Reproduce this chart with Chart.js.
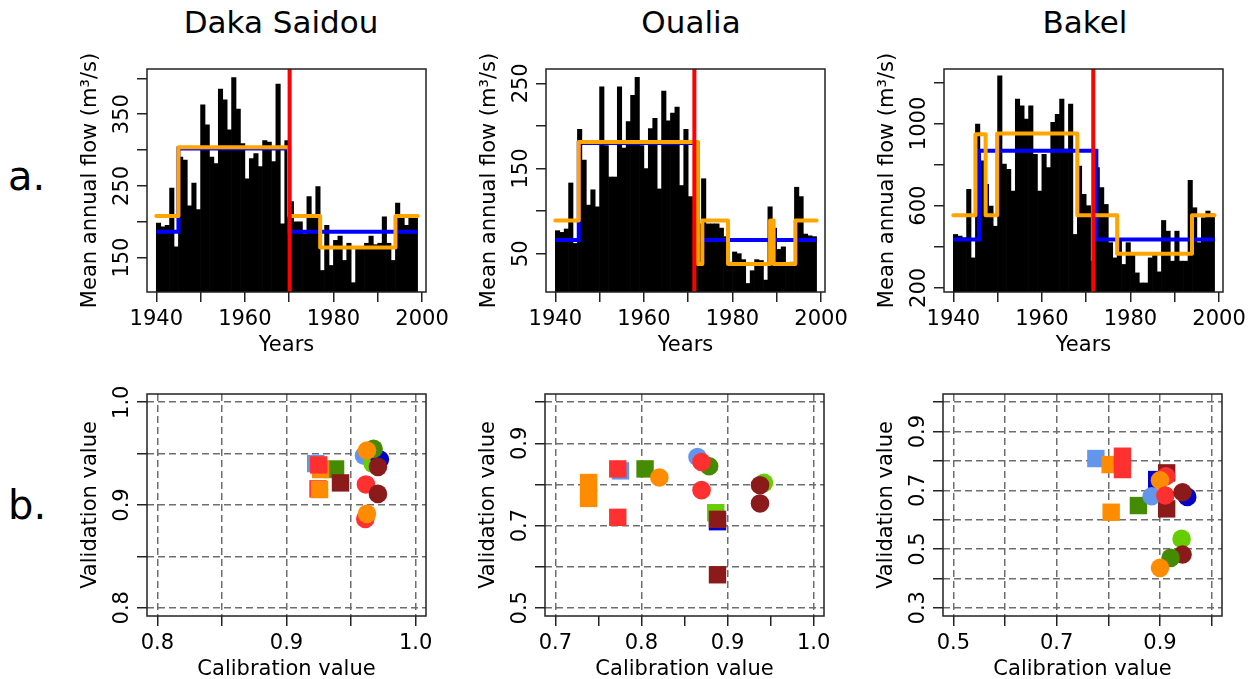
<!DOCTYPE html>
<html>
<head>
<meta charset="utf-8">
<script src="https://cdn.jsdelivr.net/npm/chart.js@4.4.1/dist/chart.umd.min.js"></script>
<style>
  body { margin: 0; width: 1255px; height: 679px; background: #fff; position: relative; overflow: hidden; font-family: "DejaVu Sans", sans-serif; }
  .site { position: absolute; top: 7px; font-size: 31px; line-height: 31px; transform: translateX(-50%); white-space: nowrap; }
  .row { position: absolute; left: 8px; font-size: 40px; line-height: 40px; }
  canvas { position: absolute; }
</style>
</head>
<body>
<div class="site" style="left:281px">Daka Saidou</div>
<div class="site" style="left:691px">Oualia</div>
<div class="site" style="left:1085px">Bakel</div>
<div class="row" style="top:156px">a.</div>
<div class="row" style="top:485px">b.</div>

<canvas id="c1"></canvas>
<canvas id="c2"></canvas>
<canvas id="c3"></canvas>
<canvas id="c4"></canvas>
<canvas id="c5"></canvas>
<canvas id="c6"></canvas>

<script>
// ---- data ----
const years = [1940, 1941, 1942, 1943, 1944, 1945, 1946, 1947, 1948, 1949,
  1950, 1951, 1952, 1953, 1954, 1955, 1956, 1957, 1958, 1959,
  1960, 1961, 1962, 1963, 1964, 1965, 1966, 1967, 1968, 1969,
  1970, 1971, 1972, 1973, 1974, 1975, 1976, 1977, 1978, 1979,
  1980, 1981, 1982, 1983, 1984, 1985, 1986, 1987, 1988, 1989,
  1990, 1991, 1992, 1993, 1994, 1995, 1996, 1997, 1998]

const dakaFlow = [198, 193, 195, 247, 165, 290, 286, 222, 254, 217,
  363, 335, 290, 281, 385, 370, 328, 401, 357, 309,
  260, 288, 295, 277, 313, 311, 284, 392, 197, 313,
  228, 200, 200, 183, 235, 207, 249, 132, 195, 139,
  174, 180, 146, 170, 115, 162, 165, 170, 180, 168,
  170, 207, 170, 146, 226, 209, 195, 207, 207]

const oualiaFlow = [77, 75, 79, 133, 62, 196, 160, 107, 125, 105,
  246, 177, 140, 140, 246, 174, 205, 236, 257, 177,
  150, 197, 209, 126, 241, 206, 215, 222, 130, 196,
  117, 110, 85, 138, 85, 85, 85, 80, 70, 40,
  52, 50, 43, 15, 30, 43, 42, 19, 105, 80,
  55, 58, 38, 40, 128, 117, 73, 71, 70]

const bakelFlow = [460, 452, 444, 680, 346, 997, 818, 704, 598, 500,
  1232, 802, 777, 671, 1119, 1086, 1021, 1086, 850, 671,
  850, 785, 1005, 1045, 1119, 875, 1094, 460, 793, 655,
  600, 330, 785, 688, 606, 420, 346, 428, 314, 420,
  363, 273, 224, 224, 346, 363, 278, 528, 476, 330,
  476, 330, 330, 723, 590, 420, 541, 574, 560]

// segment means (orange / blue) : break years and levels
const dakaOrangeBreaks = [1940, 1945, 1970, 1977, 1994, 1999]
const dakaOrangeMeans = [208, 304, 208, 164, 208]
const dakaBlueBreaks = [1940, 1945, 1970, 1999]
const dakaBlueMeans = [186, 302, 186]
const dakaBreakYear = 1970.1

const oualiaOrangeBreaks = [1940, 1945.3, 1972.2, 1973.2, 1979, 1988.5, 1989.3, 1994.2, 1999]
const oualiaOrangeMeans = [89, 181, 38, 89, 38, 89, 38, 89]
const oualiaBlueBreaks = [1940, 1945.3, 1972.2, 1999]
const oualiaBlueMeans = [66, 180, 66]
const oualiaBreakYear = 1971.4

const bakelOrangeBreaks = [1940, 1945, 1947.3, 1949.9, 1968, 1977, 1993.9, 1999]
const bakelOrangeMeans = [554, 948, 554, 951, 554, 366, 554]
const bakelBlueBreaks = [1940, 1945.8, 1972.3, 1999]
const bakelBlueMeans = [436, 867, 436]
const bakelBreakYear = 1971.6

// tick values and labels
const yearTicks = [1940, 1950, 1960, 1970, 1980, 1990, 2000]
const yearLabels = [1940, 1960, 1980, 2000]
const dakaFlowTicks = [150, 200, 250, 300, 350, 400]
const dakaFlowLabels = [150, 250, 350]
const oualiaFlowTicks = [50, 100, 150, 200, 250]
const oualiaFlowLabels = [50, 150, 250]
const bakelFlowTicks = [200, 400, 600, 800, 1000, 1200]
const bakelFlowLabels = [200, 600, 1000]

// calibration / validation scores, model index per point
const models = ['#6495ED', '#0000CD', '#66CD00', '#458B00', '#FF8C00', '#FF3030', '#8B1A1A']

const dakaSqCal = [0.9226, 0.9359, 0.938, 0.9264, 0.9249, 0.9418, 0.9244, 0.9256]
const dakaSqVal = [0.9403, 0.9345, 0.935, 0.9345, 0.9390, 0.9215, 0.9157, 0.915]
const dakaSqModel = [0, 2, 3, 4, 5, 6, 5, 4]
const dakaCiCal = [0.960, 0.9667, 0.9723, 0.9674, 0.9623, 0.9708, 0.9615, 0.9708, 0.961, 0.9623]
const dakaCiVal = [0.948, 0.9403, 0.9442, 0.9546, 0.953, 0.9371, 0.920, 0.9108, 0.8865, 0.8914]
const dakaCiModel = [0, 2, 1, 3, 4, 6, 5, 6, 5, 4]

const oualiaSqCal = [0.7386, 0.7386, 0.7756, 0.7725, 0.7725, 0.8042, 0.8883, 0.8863, 0.8883, 0.8883]
const oualiaSqVal = [0.8047, 0.766, 0.833, 0.8378, 0.72, 0.8378, 0.7094, 0.7312, 0.7151, 0.5803]
const oualiaSqModel = [4, 4, 0, 5, 5, 3, 1, 2, 6, 6]
const oualiaCiCal = [0.8208, 0.8651, 0.8786, 0.8698, 0.8698, 0.9423, 0.9377, 0.9377]
const oualiaCiVal = [0.8168, 0.8668, 0.8442, 0.8547, 0.7861, 0.8039, 0.7982, 0.7538]
const oualiaCiModel = [4, 0, 3, 5, 5, 2, 6, 6]

const bakelSqCal = [0.7759, 0.8035, 0.8273, 0.8273, 0.8055, 0.8582, 0.8936, 0.9129, 0.9129]
const bakelSqVal = [0.8082, 0.7877, 0.8161, 0.7707, 0.6254, 0.6481, 0.7367, 0.7594, 0.6368]
const bakelSqModel = [0, 4, 5, 5, 4, 3, 1, 6, 6]
const bakelCiCal = [0.8839, 0.9116, 0.9, 0.9103, 0.9527, 0.9437, 0.9418, 0.9437, 0.9206, 0.9]
const bakelCiVal = [0.6799, 0.748, 0.7344, 0.6822, 0.6776, 0.6935, 0.5346, 0.4813, 0.4699, 0.4359]
const bakelCiModel = [0, 5, 4, 5, 1, 6, 2, 6, 3, 4]

const dakaScoreTicks = [0.8, 0.85, 0.9, 0.95, 1.0]
const dakaScoreLabels = [0.8, 0.9, 1.0]
const oualiaCalTicks = [0.7, 0.75, 0.8, 0.85, 0.9, 0.95, 1.0]
const oualiaCalLabels = [0.7, 0.8, 0.9, 1.0]
const oualiaCalGrid = [0.7, 0.8, 0.9, 1.0]
const oualiaValTicks = [0.5, 0.6, 0.7, 0.8, 0.9, 1.0]
const oualiaValLabels = [0.5, 0.7, 0.9]
const bakelCalTicks = [0.5, 0.6, 0.7, 0.8, 0.9, 1.0]
const bakelCalLabels = [0.5, 0.7, 0.9]
const bakelValTicks = [0.3, 0.4, 0.5, 0.6, 0.7, 0.8, 0.9, 1.0]
const bakelValLabels = [0.3, 0.5, 0.7, 0.9]

// ---- helpers ----
const PADL = 100, PADT = 40, PADR = 30, PADB = 70
const FONT = '21px "DejaVu Sans"'

function place(id, left, top, w, h) {
  const c = document.getElementById(id)
  c.width = w + PADL + PADR
  c.height = h + PADT + PADB
  c.style.left = (left - PADL) + 'px'
  c.style.top = (top - PADT) + 'px'
  return c
}

function steps(breaks, means) {
  var pts = []
  for (var i = 0; i < means.length; i++) {
    pts.push({ x: breaks[i], y: means[i] })
    pts.push({ x: breaks[i + 1], y: means[i] })
  }
  return pts
}

function axesPlugin(s) {
  return {
    id: 'rAxes',
    afterDraw(chart) {
      const ctx = chart.ctx, a = chart.chartArea
      const x = chart.scales.x, y = chart.scales.y
      ctx.save()
      ctx.strokeStyle = '#222'
      ctx.lineWidth = 1.5
      ctx.strokeRect(a.left, a.top, a.right - a.left, a.bottom - a.top)
      ctx.fillStyle = '#000'
      ctx.font = FONT
      ctx.textAlign = 'center'
      ctx.textBaseline = 'alphabetic'
      s.xLabels.forEach(v => ctx.fillText(s.fmt(v), x.getPixelForValue(v), a.bottom + 33))
      ctx.fillText(s.xTitle, (a.left + a.right) / 2, a.bottom + 59)
      s.yLabels.forEach(v => {
        ctx.save()
        ctx.translate(a.left - 19, y.getPixelForValue(v))
        ctx.rotate(-Math.PI / 2)
        ctx.fillText(s.fmt(v), 0, 0)
        ctx.restore()
      })
      ctx.save()
      ctx.translate(a.left - 51, (a.top + a.bottom) / 2)
      ctx.rotate(-Math.PI / 2)
      ctx.fillText(s.yTitle, 0, 0)
      ctx.restore()
      ctx.restore()
    }
  }
}

function scale(min, max, ticks, gridVals, dashed, horiz) {
  return {
    type: 'linear', min: min, max: max, offset: false, beginAtZero: false,
    afterBuildTicks: sc => { sc.ticks = ticks.map(v => ({ value: v })) },
    afterFit: sc => { if (horiz) sc.height = PADB; else sc.width = PADL },
    ticks: { display: false },
    border: { display: false, dash: [7, 4] },
    grid: {
      offset: false,
      drawOnChartArea: dashed,
      color: c => (gridVals.indexOf(c.tick ? c.tick.value : NaN) >= 0 ? '#6e6e6e' : 'rgba(0,0,0,0)'),
      lineWidth: 1.5,
      tickLength: 10,
      tickColor: '#222',
      tickWidth: 1.5
    }
  }
}

function topChart(id, left, flow, oB, oM, bB, bM, redYear, yMin, yMax, yTicks, yLabels) {
  const c = place(id, left, 69, 279, 223)
  new Chart(c, {
    type: 'bar',
    data: {
      datasets: [
        { type: 'line', order: 0, data: [{ x: redYear, y: yMin }, { x: redYear, y: yMax }],
          borderColor: '#FF0000', borderWidth: 4, pointRadius: 0, fill: false },
        { type: 'line', order: 1, data: steps(oB, oM), borderColor: '#FFA500', borderWidth: 4,
          pointRadius: 0, fill: false, borderJoinStyle: 'round', borderCapStyle: 'round' },
        { type: 'line', order: 2, data: steps(bB, bM), borderColor: '#0000FF', borderWidth: 4,
          pointRadius: 0, fill: false },
        { type: 'bar', order: 3, data: years.map((yr, i) => ({ x: yr + 0.5, y: flow[i] })),
          backgroundColor: '#000', borderWidth: 0, barPercentage: 1, categoryPercentage: 1 }
      ]
    },
    options: {
      responsive: false, animation: false, devicePixelRatio: 1, events: [],
      layout: { padding: { left: 0, top: PADT, right: PADR, bottom: 0 } },
      plugins: { legend: { display: false }, tooltip: { enabled: false } },
      scales: {
        x: scale(1937.9, 2000.9, yearTicks, [], false, true),
        y: scale(yMin, yMax, yTicks, [], false, false)
      }
    },
    plugins: [axesPlugin({ xLabels: yearLabels, yLabels: yLabels, fmt: v => String(v),
      xTitle: 'Years', yTitle: 'Mean annual flow (m³/s)' })]
  })
}

function scoreChart(id, left, sqX, sqY, sqM, ciX, ciY, ciM, xr, yr, xT, xL, xG, yT, yL, yG) {
  const c = place(id, left, 394, 279, 222)
  new Chart(c, {
    type: 'scatter',
    data: {
      datasets: [
        { order: 1, data: ciX.map((v, i) => ({ x: v, y: ciY[i] })), pointStyle: 'circle', pointRadius: 9.3,
          pointBackgroundColor: ciM.map(m => models[m]), pointBorderWidth: 0 },
        { order: 2, data: sqX.map((v, i) => ({ x: v, y: sqY[i] })), pointStyle: 'rect', pointRadius: 12.3,
          pointBackgroundColor: sqM.map(m => models[m]), pointBorderWidth: 0 }
      ]
    },
    options: {
      responsive: false, animation: false, devicePixelRatio: 1, events: [],
      layout: { padding: { left: 0, top: PADT, right: PADR, bottom: 0 } },
      plugins: { legend: { display: false }, tooltip: { enabled: false } },
      scales: {
        x: scale(xr[0], xr[1], xT, xG, true, true),
        y: scale(yr[0], yr[1], yT, yG, true, false)
      }
    },
    plugins: [axesPlugin({ xLabels: xL, yLabels: yL, fmt: v => v.toFixed(1),
      xTitle: 'Calibration value', yTitle: 'Validation value' })]
  })
}

topChart('c1', 147, dakaFlow, dakaOrangeBreaks, dakaOrangeMeans, dakaBlueBreaks, dakaBlueMeans,
  dakaBreakYear, 102, 413, dakaFlowTicks, dakaFlowLabels)
topChart('c2', 546, oualiaFlow, oualiaOrangeBreaks, oualiaOrangeMeans, oualiaBlueBreaks, oualiaBlueMeans,
  oualiaBreakYear, 5, 266.8, oualiaFlowTicks, oualiaFlowLabels)
topChart('c3', 944, bakelFlow, bakelOrangeBreaks, bakelOrangeMeans, bakelBlueBreaks, bakelBlueMeans,
  bakelBreakYear, 180, 1265, bakelFlowTicks, bakelFlowLabels)

scoreChart('c4', 147, dakaSqCal, dakaSqVal, dakaSqModel, dakaCiCal, dakaCiVal, dakaCiModel,
  [0.792, 1.008], [0.792, 1.008], dakaScoreTicks, dakaScoreLabels, dakaScoreTicks,
  dakaScoreTicks, dakaScoreLabels, dakaScoreTicks)
scoreChart('c5', 545, oualiaSqCal, oualiaSqVal, oualiaSqModel, oualiaCiCal, oualiaCiVal, oualiaCiModel,
  [0.688, 1.012], [0.48, 1.02], oualiaCalTicks, oualiaCalLabels, oualiaCalGrid,
  oualiaValTicks, oualiaValLabels, oualiaValTicks)
scoreChart('c6', 943, bakelSqCal, bakelSqVal, bakelSqModel, bakelCiCal, bakelCiVal, bakelCiModel,
  [0.48, 1.02], [0.272, 1.028], bakelCalTicks, bakelCalLabels, bakelCalTicks,
  bakelValTicks, bakelValLabels, bakelValTicks)
</script>
</body>
</html>
